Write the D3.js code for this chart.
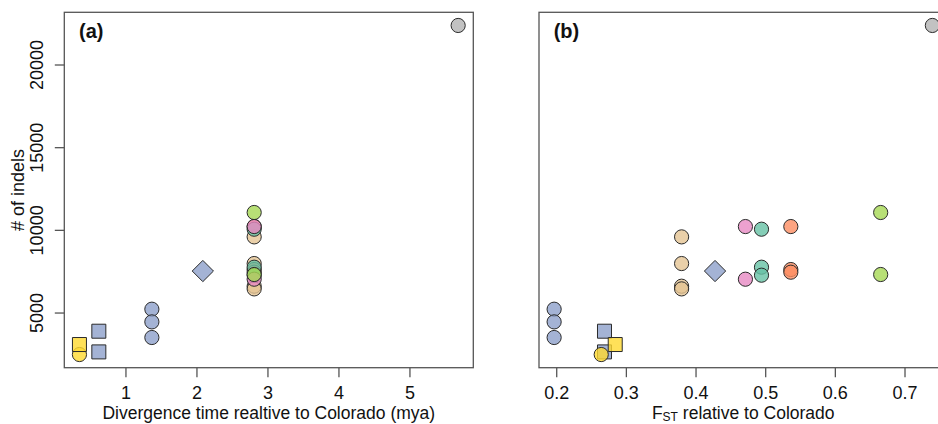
<!DOCTYPE html>
<html><head><meta charset="utf-8">
<script src="https://cdn.jsdelivr.net/npm/d3@7"></script>
<style>body{margin:0;background:#fff}svg{display:block;font-family:"Liberation Sans",Arial,Helvetica,sans-serif}</style>
</head><body><svg id="c" width="938" height="424"></svg>
<script>
// ---- data ----
const groups     = ["blue","blue","blue","blue","blue","yellow","yellow","blue","tan","tan","tan","tan","orange","orange","orange","teal","teal","teal","pink","pink","green","green","gray"];
const shapes     = ["square","square","circle","circle","circle","circle","square","diamond","circle","circle","circle","circle","circle","circle","circle","circle","circle","circle","circle","circle","circle","circle","circle"];
const divergence = [0.625,0.625,1.372,1.372,1.372,0.352,0.352,2.09,2.813,2.813,2.813,2.813,2.813,2.813,2.813,2.813,2.813,2.813,2.813,2.813,2.813,2.813,5.686];
const fst        = [0.2693,0.2693,0.197,0.197,0.197,0.2646,0.2847,0.428,0.380,0.380,0.380,0.380,0.5368,0.5368,0.5368,0.4947,0.4947,0.4947,0.4716,0.4716,0.6658,0.6658,0.740];
const indels     = [3871,2620,5202,4435,3490,2460,3066,7510,9576,7963,6593,6430,10200,7600,7440,10040,7742,7258,10200,7016,11050,7300,22361];
const groupNames = ["teal","orange","blue","pink","green","yellow","tan","gray"];
const groupColors= ["#66C2A5","#FC8D62","#8DA0CB","#E78AC3","#A6D854","#FFD92F","#E5C494","#B3B3B3"];
const xTicksA = [1,2,3,4,5];
const xTicksB = [0.2,0.3,0.4,0.5,0.6,0.7];
const yTicks  = [5000,10000,15000,20000];

const svg = d3.select("#c");
const color = d3.scaleOrdinal(groupNames, groupColors);
const pad = e => { const d = e[1]-e[0]; return [e[0]-0.04*d, e[1]+0.04*d]; };
const plotTop = 12.3, plotBottom = 367.7;
const y = d3.scaleLinear(pad(d3.extent(indels)), [plotBottom, plotTop]);
const symbolFor = s => s === "square" ? d3.symbolSquare : s === "diamond" ? d3.symbolDiamond2 : d3.symbolCircle;
const sizeFor = s => s === "square" ? 14*14 : s === "diamond" ? 2*12*12 : Math.PI*7.1*7.1;
const FS = 18;

function panel(xs, left, right, ticks, fmt, label, showY, titleFn) {
  const x = d3.scaleLinear(pad(d3.extent(xs)), [left, right]);
  const g = svg.append("g");
  groups.forEach((gr, i) => {
    g.append("path")
      .attr("d", d3.symbol(symbolFor(shapes[i]), sizeFor(shapes[i]))())
      .attr("transform", `translate(${x(xs[i])},${y(indels[i])})`)
      .attr("fill", color(gr)).attr("fill-opacity", 0.8)
      .attr("stroke", "#2b2b2b").attr("stroke-width", 1);
  });
  g.append("rect").attr("x", left).attr("y", plotTop).attr("width", right-left).attr("height", plotBottom-plotTop)
    .attr("fill", "none").attr("stroke", "#555").attr("stroke-width", 1.3);
  const xa = g.append("g").attr("transform", `translate(0,${plotBottom})`)
    .call(d3.axisBottom(x).tickValues(ticks).tickFormat(fmt).tickSize(9.5).tickPadding(0));
  xa.select(".domain").remove();
  xa.selectAll("line").attr("stroke", "#555").attr("stroke-width", 1.3);
  xa.selectAll("text").attr("font-size", FS).attr("fill", "#111").attr("dy", null).attr("y", 31.8)
    .attr("font-family", "Liberation Sans, Arial, sans-serif");
  if (showY) {
    const ya = g.append("g").attr("transform", `translate(${left},0)`)
      .call(d3.axisLeft(y).tickValues(yTicks).tickFormat(d3.format("d")).tickSize(9.5).tickPadding(0));
    ya.select(".domain").remove();
    ya.selectAll("line").attr("stroke", "#555").attr("stroke-width", 1.3);
    ya.selectAll("text").attr("font-size", FS).attr("fill", "#111").attr("x", null).attr("dy", null)
      .attr("text-anchor", "middle").attr("font-family", "Liberation Sans, Arial, sans-serif")
      .attr("transform", `translate(${42.7-left},0) rotate(-90)`);
    g.append("text").attr("transform", `translate(24,${(plotTop+plotBottom)/2}) rotate(-90)`)
      .attr("text-anchor", "middle").attr("font-size", FS).attr("fill", "#111").text("# of indels");
  }
  g.append("text").attr("x", left + 14.7).attr("y", 38).attr("font-size", 20).attr("font-weight", "bold")
    .attr("fill", "#111").text(label);
  const t = g.append("text").attr("x", (left+right)/2).attr("y", 419.3).attr("text-anchor", "middle")
    .attr("font-size", 17.5).attr("fill", "#111");
  titleFn(t);
}

panel(divergence, 64.3, 473.3, xTicksA, d3.format("d"), "(a)", true,
  t => t.text("Divergence time realtive to Colorado (mya)"));
panel(fst, 539, 947.5, xTicksB, d3.format(".1f"), "(b)", false,
  t => { t.append("tspan").text("F");
         t.append("tspan").attr("font-size", 12).attr("dy", 2).text("ST");
         t.append("tspan").attr("dy", -2).text(" relative to Colorado"); });
</script></body></html>
